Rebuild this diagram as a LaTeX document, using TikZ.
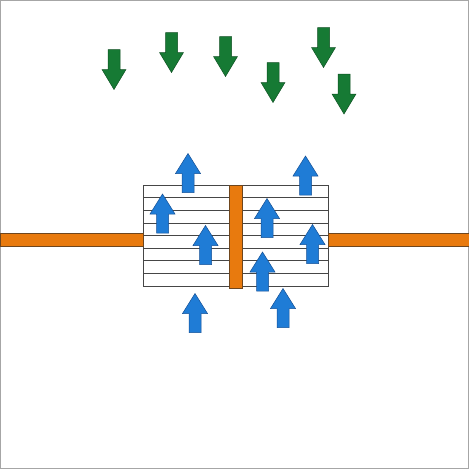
\documentclass[tikz,border=0pt]{standalone}
\begin{document}
\begin{tikzpicture}[x=1pt,y=-1pt,
  bluefill/.style={fill={rgb,255:red,31;green,124;blue,214}, draw={rgb,255:red,20;green,80;blue,150}, line width=0.5pt},
  greenfill/.style={fill={rgb,255:red,22;green,122;blue,52}, draw={rgb,255:red,14;green,80;blue,34}, line width=0.5pt},
  orangefill/.style={fill={rgb,255:red,232;green,122;blue,14}, draw={rgb,255:red,110;green,70;blue,30}, line width=0.6pt},
  upar/.pic={\path[pic actions] (0,0) -- (12.5,20) -- (6,20) -- (6,39) -- (-6,39) -- (-6,20) -- (-12.5,20) -- cycle;},
  downar/.pic={\path[pic actions] (0,0) -- (12,-20) -- (6,-20) -- (6,-40) -- (-6,-40) -- (-6,-20) -- (-12,-20) -- cycle;},
  stripe/.style={draw={rgb,255:red,70;green,70;blue,70}, line width=0.6pt}]
\useasboundingbox (0,0) rectangle (469,469);
\draw[gray!70, line width=0.8pt] (0.4,0.4) rectangle (468.6,468.6);
% stack box
\draw[stripe, fill=white] (143,185) rectangle (328,286);
\foreach \k in {1,...,7}{\draw[stripe] (143,{185+\k*12.625}) -- (328,{185+\k*12.625});}
% orange bars
\path[orangefill] (0,233) rectangle (143,246);
\path[orangefill] (328,233) rectangle (469,246);
\path[orangefill] (229,185.5) rectangle (242,288);
% blue arrows
\foreach \x/\y in {188/153.5, 305.5/156, 162.5/194, 205.5/225.5, 267/198.5, 312.5/224.5, 262.5/252, 195/293.5, 283/288.5}
  {\pic[bluefill] at (\x,\y) {upar};}
% green arrows
\foreach \x/\y in {114/89.5, 171.5/72.5, 225.5/76.5, 273/102.5, 323.5/67.5, 344/114}
  {\pic[greenfill] at (\x,\y) {downar};}
\end{tikzpicture}
\end{document}
